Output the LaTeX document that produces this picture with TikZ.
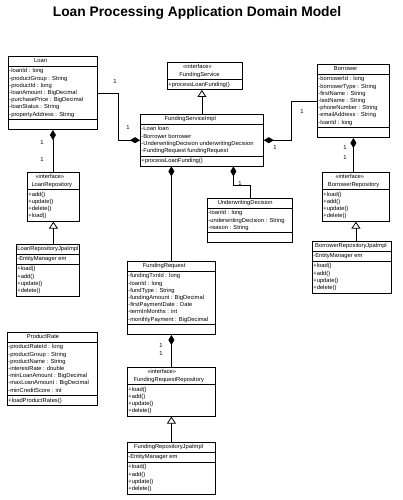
\documentclass[tikz,border=0pt]{standalone}
\usepackage{fontspec}
\setmainfont{Liberation Sans}
\usetikzlibrary{shapes.multipart,arrows.meta}

\begin{document}
\begin{tikzpicture}[x=1pt,y=-1pt,
	cls/.style={draw, line width=0.8pt, rectangle split, rectangle split parts=3,
		anchor=north west, inner xsep=1pt, inner ysep=1pt, align=flush left,
		font=\fontsize{5.8}{7.2}\selectfont},
	iface/.style={cls, rectangle split parts=2},
	owns/.style={line width=0.8pt, {Diamond[length=10pt,width=6pt]}-},
	impl/.style={line width=0.8pt, -{Triangle[open,length=7pt,width=9pt]}},
	mult/.style={font=\fontsize{5.8}{6}\selectfont, inner sep=0pt}]

	\useasboundingbox (0,0) rectangle (403,500);

	\node[font=\bfseries\fontsize{13.8}{16}\selectfont] (title) at (197,13) {Loan Processing Application Domain Model};

	% classes
	\node[cls, text width=87pt] (loan) at (8,56) {\hfil\strut Loan\strut
		\nodepart{two}\strut-loanId : long\\-productGroup : String\\-productId : long\\-loanAmount : BigDecimal\\-purchasePrice : BigDecimal\\-loanStatus : String\\-propertyAddress : String\strut
		\nodepart{three}\strut};
	\node[iface, text width=73pt] (fs) at (167,62) {\hfil\strut «interface»\\\hfil FundingService\strut
		\nodepart{two}\strut+processLoanFunding()\strut};
	\node[cls, text width=121pt] (fsi) at (140,114) {\hfil\strut FundingServiceImpl\strut
		\nodepart{two}\strut-Loan loan\\-Borrower borrower\\-UnderwritingDecision underwritingDecision\\-FundingRequest fundingRequest\strut
		\nodepart{three}\strut+processLoanFunding()\strut};
	\node[cls, text width=70pt] (bor) at (317,64) {\hfil\strut Borrower\strut
		\nodepart{two}\strut-borrowerId : long\\-borrowerType : String\\-firstName : String\\-lastName : String\\-phoneNumber : String\\-emailAddress : String\\-loanId : long\strut
		\nodepart{three}\strut};
	\node[iface, text width=50pt] (lr) at (27,172) {\hfil\strut «interface»\\\hfil LoanRepository\strut
		\nodepart{two}\strut+add()\\+update()\\+delete()\\+load()\strut};
	\node[cls, text width=61pt] (lrj) at (16,244) {\hfil\strut LoanRepositoryJpaImpl\strut
		\nodepart{two}\strut-EntityManager em\strut
		\nodepart{three}\strut+load()\\+add()\\+update()\\+delete()\strut};
	\node[iface, text width=65pt] (br) at (322,172) {\hfil\strut «interface»\\\hfil BorrowerRepository\strut
		\nodepart{two}\strut+load()\\+add()\\+update()\\+delete()\strut};
	\node[cls, text width=77pt] (brj) at (312,241) {\hfil\strut BorrowerRepositoryJpaImpl\strut
		\nodepart{two}\strut-EntityManager em\strut
		\nodepart{three}\strut+load()\\+add()\\+update()\\+delete()\strut};
	\node[cls, text width=83pt] (ud) at (207,198) {\hfil\strut UnderwritingDecision\strut
		\nodepart{two}\strut-loanId : long\\-underwritingDecision : String\\-reason : String\strut
		\nodepart{three}\strut};
	\node[cls, text width=86pt] (fr) at (127,261) {\hfil\strut FundingRequest\strut
		\nodepart{two}\strut-fundingTxnId : long\\-loanId : long\\-fundType : String\\-fundingAmount : BigDecimal\\-firstPaymentDate : Date\\-termInMonths : int\\-monthlyPayment : BigDecimal\strut
		\nodepart{three}\strut};
	\node[iface, text width=86pt] (frr) at (127,367) {\hfil\strut «interface»\\\hfil FundingRequestRepository\strut
		\nodepart{two}\strut+load()\\+add()\\+update()\\+delete()\strut};
	\node[cls, text width=86pt] (frj) at (127,442) {\hfil\strut FundingRepositoryJpaImpl\strut
		\nodepart{two}\strut-EntityManager em\strut
		\nodepart{three}\strut+load()\\+add()\\+update()\\+delete()\strut};
	\node[cls, text width=88pt] (pr) at (7,332) {\hfil\strut ProductRate\strut
		\nodepart{two}\strut-productRateId : long\\-productGroup : String\\-productName : String\\-interestRate : double\\-minLoanAmount : BigDecimal\\-maxLoanAmount : BigDecimal\\-minCreditScore : int\strut
		\nodepart{three}\strut+loadProductRates()\strut};

	% associations
	\draw[owns] (fsi.west) -- ++(-22,0) |- (loan.east);
	\draw[owns] (fsi.east) -- ++(28,0) |- (bor.west);
	\draw[owns] (fsi.south -| fr.north) -- (fr.north);
	\draw[owns] ([xshift=31.5pt]fsi.south) -- ++(0,19) -| (ud.north);
	\draw[owns] (loan.south) -- (loan.south |- lr.north);
	\draw[owns] (bor.south) -- (bor.south |- br.north);
	\draw[owns] (fr.south) -- (frr.north);

	% realizations
	\draw[impl] (fsi.north) -- (fsi.north |- fs.south);
	\draw[impl] (lrj.north -| lr.south) -- (lr.south);
	\draw[impl] (brj.north -| br.south) -- (br.south);
	\draw[impl] (frj.north) -- (frr.south);

	% multiplicities
	\node[mult] (m1) at (115,82) {1};
	\node[mult] (m2) at (128,128) {1};
	\node[mult] (m3) at (302,112) {1};
	\node[mult] (m4) at (275,148) {1};
	\node[mult] (m5) at (240,184) {1};
	\node[mult] (m6) at (42,143) {1};
	\node[mult] (m7) at (42,160) {1};
	\node[mult] (m8) at (345,148) {1};
	\node[mult] (m9) at (345,158) {1};
	\node[mult] (m10) at (161,346) {1};
	\node[mult] (m11) at (161,354) {1};

\end{tikzpicture}
\end{document}
